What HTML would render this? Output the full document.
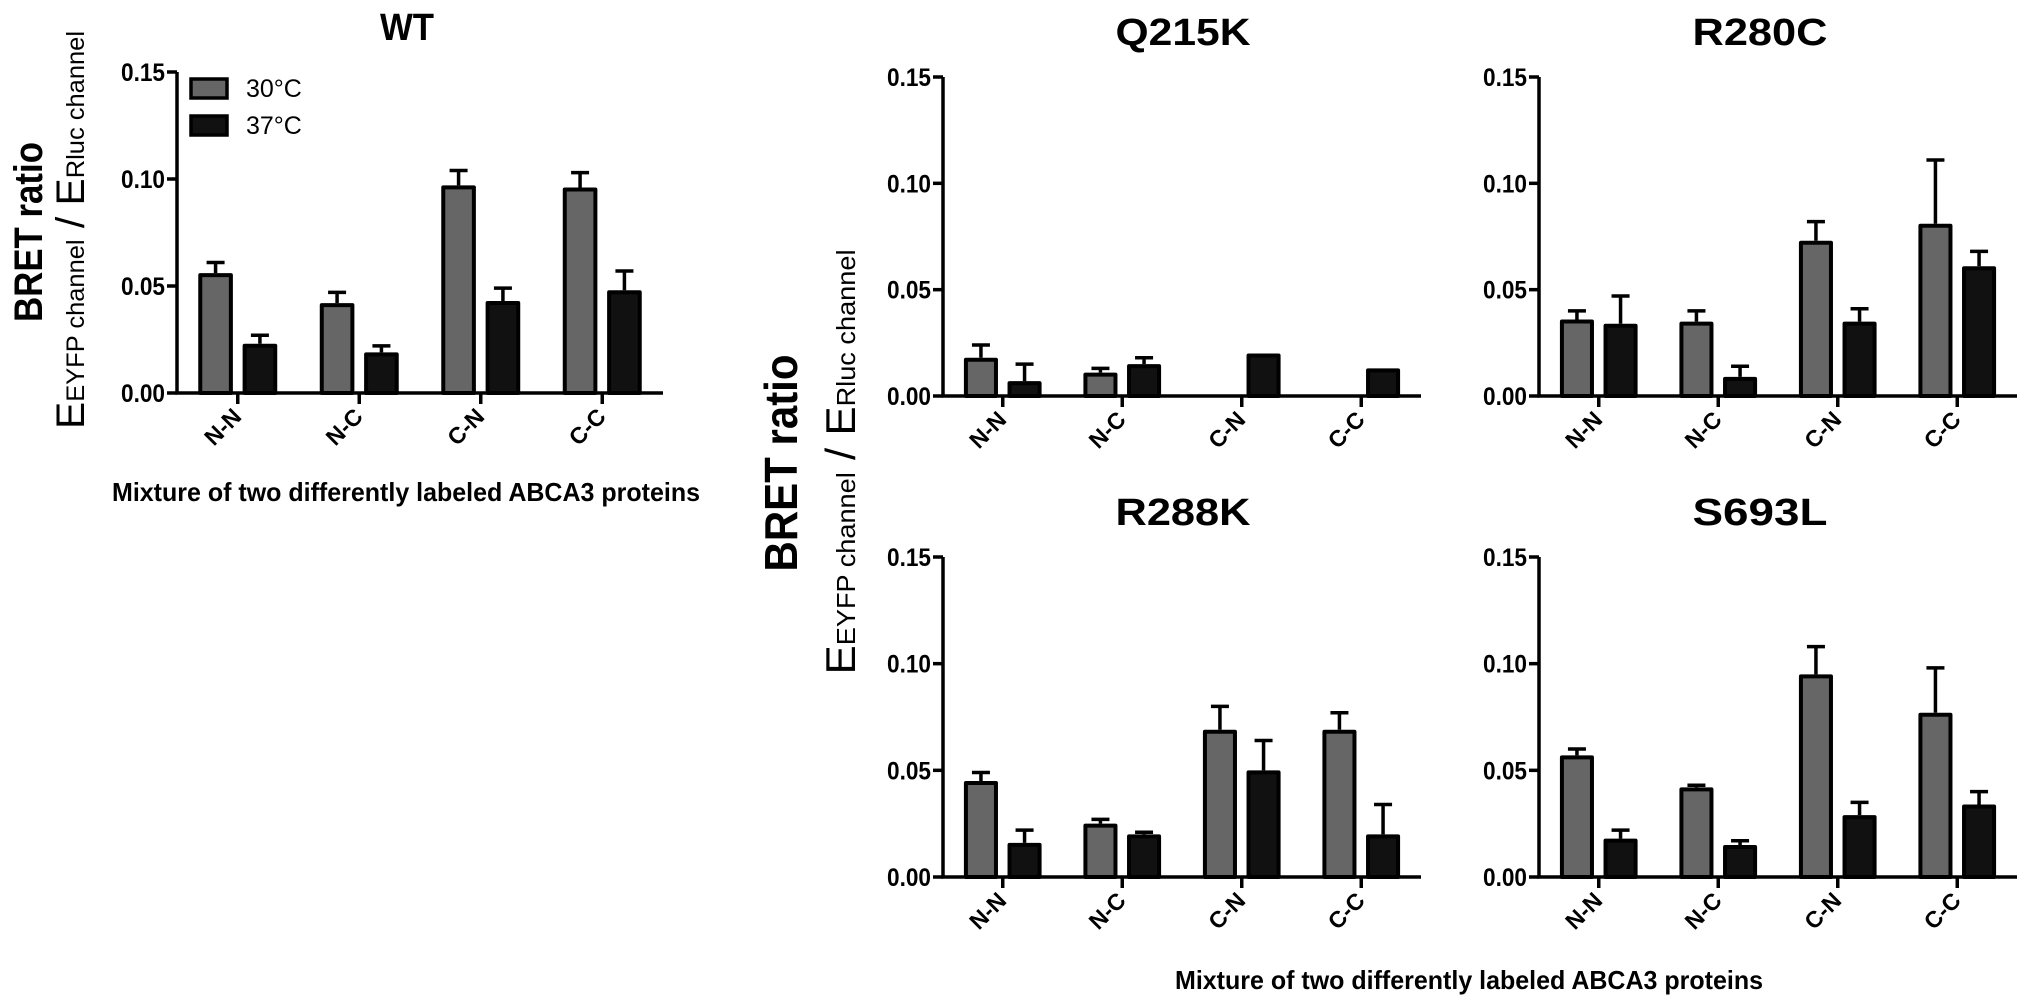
<!DOCTYPE html>
<html><head><meta charset="utf-8"><style>
html,body{margin:0;padding:0;background:#fff;}
svg{display:block;font-family:"Liberation Sans",Arial,sans-serif;}
</style></head><body>
<svg id="fig" width="2031" height="1003" viewBox="0 0 2031 1003">
<g>
<text transform="translate(42,232) rotate(-90)" text-anchor="middle" font-weight="bold" font-size="40" textLength="180" lengthAdjust="spacingAndGlyphs">BRET ratio</text>
<text transform="translate(84,230) rotate(-90)" text-anchor="middle" textLength="398" lengthAdjust="spacingAndGlyphs"><tspan font-size="40">E</tspan><tspan font-size="25">EYFP channel</tspan><tspan font-size="40"> / E</tspan><tspan font-size="25">Rluc channel</tspan></text>
</g>
<text x="406" y="501" text-anchor="middle" font-weight="bold" font-size="26" textLength="588" lengthAdjust="spacingAndGlyphs">Mixture of two differently labeled ABCA3 proteins</text>
<g>
<text transform="translate(797,463) rotate(-90)" text-anchor="middle" font-weight="bold" font-size="46" textLength="217" lengthAdjust="spacingAndGlyphs">BRET ratio</text>
<text transform="translate(855,462) rotate(-90)" text-anchor="middle" textLength="425" lengthAdjust="spacingAndGlyphs"><tspan font-size="42">E</tspan><tspan font-size="26">EYFP channel</tspan><tspan font-size="42"> / E</tspan><tspan font-size="26">Rluc channel</tspan></text>
</g>
<text x="1469" y="989" text-anchor="middle" font-weight="bold" font-size="26" textLength="588" lengthAdjust="spacingAndGlyphs">Mixture of two differently labeled ABCA3 proteins</text>
<g>
<rect x="191" y="79" width="36" height="19" fill="#666" stroke="#000" stroke-width="3.5"/>
<text x="246" y="97" font-size="25">30°C</text>
<rect x="191" y="116" width="36" height="19" fill="#111" stroke="#000" stroke-width="3.5"/>
<text x="246" y="134" font-size="25">37°C</text>
</g>
</svg>
<script>
const categories = ["N-N","N-C","C-N","C-C"];
const tickValues = [0, 0.05, 0.10, 0.15];
const tickLabels = ["0.00","0.05","0.10","0.15"];
const panelNames = ["WT","Q215K","R280C","R288K","S693L"];
const wt30 = [0.056,0.042,0.097,0.096];
const wt30err = [0.005,0.005,0.007,0.007];
const wt37 = [0.023,0.019,0.043,0.048];
const wt37err = [0.004,0.003,0.006,0.009];
const q215k30 = [0.018,0.011,0,0];
const q215k30err = [0.006,0.002,0,0];
const q215k37 = [0.007,0.015,0.020,0.013];
const q215k37err = [0.008,0.003,0,0];
const r280c30 = [0.036,0.035,0.073,0.081];
const r280c30err = [0.004,0.005,0.009,0.030];
const r280c37 = [0.034,0.009,0.035,0.061];
const r280c37err = [0.013,0.005,0.006,0.007];
const r288k30 = [0.045,0.025,0.069,0.069];
const r288k30err = [0.004,0.002,0.011,0.008];
const r288k37 = [0.016,0.020,0.050,0.020];
const r288k37err = [0.006,0.001,0.014,0.014];
const s693l30 = [0.057,0.042,0.095,0.077];
const s693l30err = [0.003,0.001,0.013,0.021];
const s693l37 = [0.018,0.015,0.029,0.034];
const s693l37err = [0.004,0.002,0.006,0.006];

const NS = "http://www.w3.org/2000/svg";
const svg = document.getElementById("fig");
function mk(tag, attrs, parent){
  const e = document.createElementNS(NS, tag);
  for (const k in attrs) e.setAttribute(k, attrs[k]);
  (parent||svg).appendChild(e);
  return e;
}
const layouts = [
  {x0:177,x1:663,y0:393,yTop:72,tx:407},
  {x0:943,x1:1421,y0:396,yTop:77,tx:1183},
  {x0:1539,x1:2017,y0:396,yTop:77,tx:1760},
  {x0:943,x1:1421,y0:877,yTop:557,tx:1183},
  {x0:1539,x1:2017,y0:877,yTop:557,tx:1760}
];
const series30 = [wt30,q215k30,r280c30,r288k30,s693l30];
const err30 = [wt30err,q215k30err,r280c30err,r288k30err,s693l30err];
const series37 = [wt37,q215k37,r280c37,r288k37,s693l37];
const err37 = [wt37err,q215k37err,r280c37err,r288k37err,s693l37err];

panelNames.forEach((name, p) => {
  const L = layouts[p];
  const yScale = v => L.y0 - (v/0.15)*(L.y0 - L.yTop);
  const W = (L.x1 - L.x0)/4;
  const xCenter = i => L.x0 + (i+0.5)*W;
  const g = mk("g", {});
  
  
  const t = mk("text", {x:L.tx, y:L.yTop-32, "text-anchor":"middle", "font-weight":"bold", "font-size":"38", textLength: name.length*27, lengthAdjust:"spacingAndGlyphs"}, g);
  t.textContent = name;
  
  
  function drawBar(v, e, xl, fill, label){
    if (v <= 0) return;
    const bw = 0.285*W;
    const top = yScale(v);
    if (e > 0) {
      const cx = xl + bw/2;
      const et = yScale(v+e);
      const el = mk("path", {d:`M${cx},${top} L${cx},${et} M${cx-9},${et} L${cx+9},${et}`, stroke:"#000", "stroke-width":"3.5", fill:"none"}, g);
      
      
    }
    const r = mk("rect", {x:xl+2, y:top+2, width:bw-4, height:Math.max(0,L.y0-top-2), fill:fill, stroke:"#000", "stroke-width":"4", "stroke-linejoin":"round"}, g);
    
    
  }
  categories.forEach((c, i) => {
    const cx = xCenter(i);
    drawBar(series30[p][i], err30[p][i], cx - 0.325*W, "#666", 'bar-30c-' + c.toLowerCase());
    drawBar(series37[p][i], err37[p][i], cx + 0.04*W, "#111", 'bar-37c-' + c.toLowerCase());
    const tk = mk("line", {x1:cx, y1:L.y0, x2:cx, y2:L.y0+11, stroke:"#000", "stroke-width":"3.5"}, g);
    
    
    const lb = mk("text", {transform:`translate(${cx+5},${L.y0+25}) rotate(-45)`, "text-anchor":"end", "font-weight":"bold", "font-size":"23"}, g);
    lb.textContent = c;
    
    
  });
  const ax = mk("path", {d:`M${L.x0},${L.yTop} L${L.x0},${L.y0} L${L.x1},${L.y0}`, stroke:"#000", "stroke-width":"3.5", fill:"none"}, g);
  
  
  tickValues.forEach((v, k) => {
    const y = yScale(v);
    const tl = mk("line", {x1:L.x0-10, y1:y, x2:L.x0, y2:y, stroke:"#000", "stroke-width":"3.5"}, g);
    
    
    const tt = mk("text", {x:L.x0-12, y:y+9, "text-anchor":"end", "font-weight":"bold", "font-size":"25", textLength:"44", lengthAdjust:"spacingAndGlyphs"}, g);
    tt.textContent = tickLabels[k];
    
    
  });
});
</script>
</body></html>
